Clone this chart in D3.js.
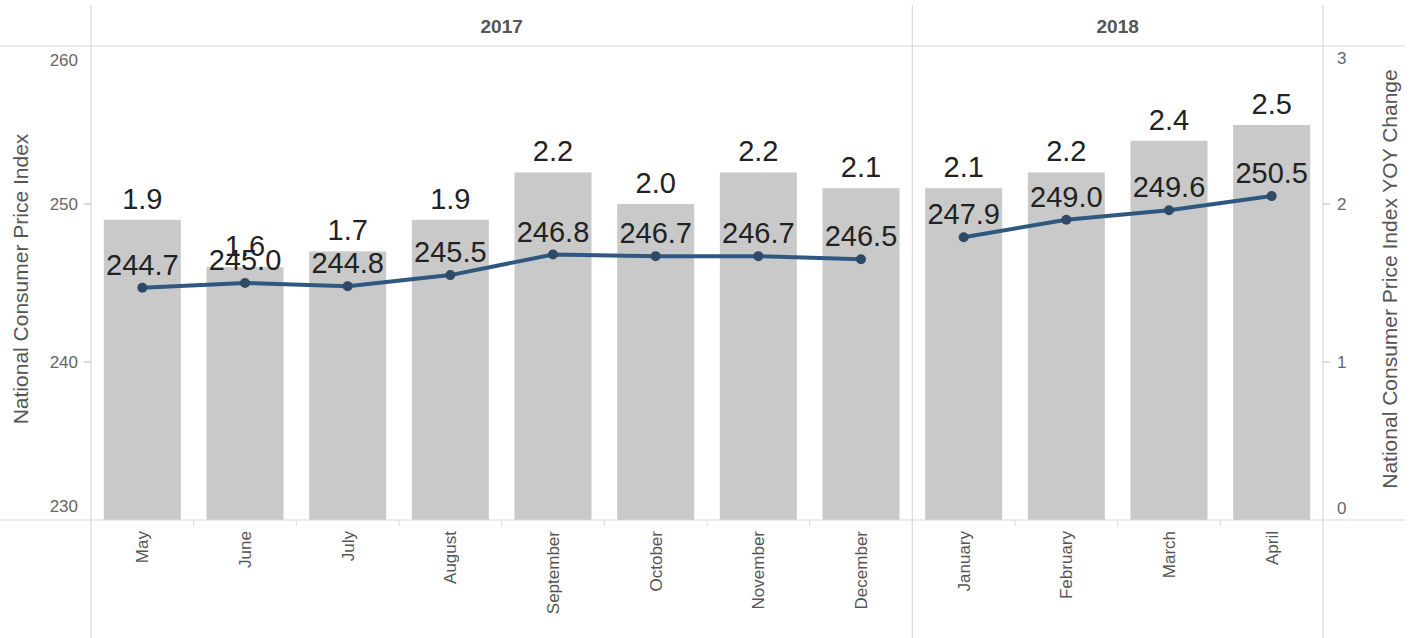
<!DOCTYPE html>
<html>
<head>
<meta charset="utf-8">
<script src="https://cdn.jsdelivr.net/npm/d3@7"></script>
<style>
  html, body { margin: 0; padding: 0; background: #fff; }
  svg { display: block; font-family: "Liberation Sans", Arial, sans-serif; }
</style>
</head>
<body>
<svg id="chart" width="1424" height="638"></svg>
<script>
const months = ["May","June","July","August","September","October","November","December","January","February","March","April"];
const years = ["2017","2017","2017","2017","2017","2017","2017","2017","2018","2018","2018","2018"];
const yearLabels = ["2017","2018"];
const cpi = [244.7,245.0,244.8,245.5,246.8,246.7,246.7,246.5,247.9,249.0,249.6,250.5];
const yoy = [1.9,1.6,1.7,1.9,2.2,2.0,2.2,2.1,2.1,2.2,2.4,2.5];
const leftTicks = [230,240,250,260];
const rightTicks = [0,1,2,3];
const leftTitle = "National Consumer Price Index";
const rightTitle = "National Consumer Price Index YOY Change";

const data = months.map((m,i)=>({month:m, year:years[i], cpi:cpi[i], yoy:yoy[i]}));

const svg = d3.select("#chart");
const W = 1424, H = 638;
const plotL = 91, plotR = 1323, plotT = 46, plotB = 520;

const x = d3.scaleBand().domain(months).range([plotL, plotR]).paddingInner(0.25).paddingOuter(0.125);
const yL = d3.scaleLinear().domain([230,260]).range([plotB, plotT]);
const yR = d3.scaleLinear().domain([0,3]).range([plotB, plotT]);

const lineCol = "#d9d9d9";

// bars
svg.append("g").selectAll("rect").data(data).join("rect")
  .attr("x", d=>x(d.month)).attr("width", x.bandwidth())
  .attr("y", d=>yR(d.yoy)).attr("height", d=>yR(0)-yR(d.yoy))
  .attr("fill", "#c9c9c9");

// frame lines
const g = svg.append("g").attr("stroke", lineCol).attr("stroke-width", 1.2).attr("fill","none");
g.append("line").attr("x1",0).attr("x2",1405).attr("y1",plotT).attr("y2",plotT);
g.append("line").attr("x1",0).attr("x2",1405).attr("y1",plotB).attr("y2",plotB);
const step = x.step();
const paneEdges = [plotL];
yearLabels.forEach((y,k)=>{
  const idx = years.lastIndexOf(y);
  paneEdges.push(x(months[idx]) + x.bandwidth() + step*x.paddingInner()/2 + (k===yearLabels.length-1 ? step*(x.paddingOuter()-x.paddingInner()/2) : 0));
});
paneEdges.forEach(px=>{
  g.append("line").attr("x1",px).attr("x2",px).attr("y1",5).attr("y2",H);
});

// year headers
yearLabels.forEach((y,k)=>{
  svg.append("text").attr("x",(paneEdges[k]+paneEdges[k+1])/2).attr("y",33)
    .attr("text-anchor","middle").attr("font-size",19).attr("font-weight","bold")
    .attr("fill","#555").text(y);
});

// x tick marks at band boundaries
svg.append("g").selectAll("line").data(months.slice(1)).join("line")
  .attr("x1", d=>x(d)-step*x.paddingInner()/2).attr("x2", d=>x(d)-step*x.paddingInner()/2)
  .attr("y1", plotB).attr("y2", plotB+6).attr("stroke","#dcdcdc");

// left axis
const gl = svg.append("g");
leftTicks.forEach((t,i)=>{
  const yy = yL(t);
  const off = i===0 ? -14 : (i===leftTicks.length-1 ? 14 : 0);
  if (i>0 && i<leftTicks.length-1) gl.append("line").attr("x1",plotL-7).attr("x2",plotL).attr("y1",yy).attr("y2",yy).attr("stroke","#bbb");
  gl.append("text").attr("x",78).attr("y",yy+off).attr("dy","0.35em").attr("text-anchor","end")
    .attr("font-size",17).attr("fill","#666").text(t);
});
// right axis
const gr = svg.append("g");
rightTicks.forEach((t,i)=>{
  const yy = yR(t);
  const off = i===0 ? -12 : (i===rightTicks.length-1 ? 12 : 0);
  if (i>0 && i<rightTicks.length-1) gr.append("line").attr("x1",plotR).attr("x2",plotR+7).attr("y1",yy).attr("y2",yy).attr("stroke","#bbb");
  gr.append("text").attr("x",1337).attr("y",yy+off).attr("dy","0.35em").attr("text-anchor","start")
    .attr("font-size",17).attr("fill","#666").text(t);
});

// axis titles
svg.append("text").attr("transform",`translate(28,${(plotT+plotB)/2 - 4}) rotate(-90)`)
  .attr("text-anchor","middle").attr("font-size",21).attr("fill","#555").text(leftTitle);
svg.append("text").attr("transform",`translate(1397,${(plotT+plotB)/2 - 4}) rotate(-90)`)
  .attr("text-anchor","middle").attr("font-size",21).attr("fill","#555").text(rightTitle);

// month labels
svg.append("g").selectAll("text").data(data).join("text")
  .attr("transform", d=>`translate(${x(d.month)+x.bandwidth()/2+6},${plotB+11}) rotate(-90)`)
  .attr("text-anchor","end").attr("font-size",17).attr("fill","#555").text(d=>d.month);

// line per year
const line = d3.line().x(d=>x(d.month)+x.bandwidth()/2).y(d=>yL(d.cpi));
yearLabels.forEach(y=>{
  const seg = data.filter(d=>d.year===y);
  svg.append("path").datum(seg).attr("d", line).attr("fill","none")
    .attr("stroke","#2f5880").attr("stroke-width",4).attr("stroke-linejoin","round");
});
svg.append("g").selectAll("circle").data(data).join("circle")
  .attr("cx", d=>x(d.month)+x.bandwidth()/2).attr("cy", d=>yL(d.cpi)).attr("r",5)
  .attr("fill","#2e4a66");

// labels
svg.append("g").selectAll("text").data(data).join("text")
  .attr("x", d=>x(d.month)+x.bandwidth()/2).attr("y", d=>yR(d.yoy)-11)
  .attr("text-anchor","middle").attr("font-size",29).attr("fill","#222")
  .text(d=>d.yoy.toFixed(1));
svg.append("g").selectAll("text").data(data).join("text")
  .attr("x", d=>x(d.month)+x.bandwidth()/2).attr("y", d=>yL(d.cpi)-13)
  .attr("text-anchor","middle").attr("font-size",29).attr("fill","#222")
  .text(d=>d.cpi.toFixed(1));
</script>
</body>
</html>
